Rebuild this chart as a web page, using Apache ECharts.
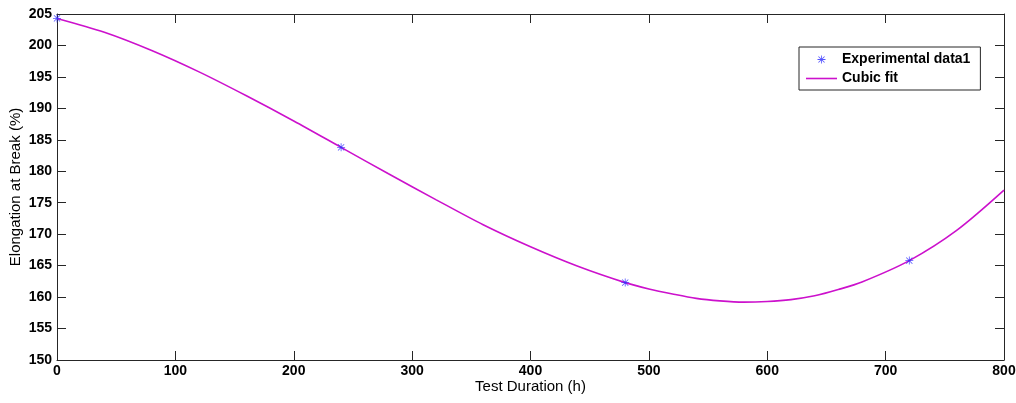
<!DOCTYPE html>
<html>
<head>
<meta charset="utf-8">
<script src="https://cdn.jsdelivr.net/npm/echarts@6/dist/echarts.min.js"></script>
<style>
  html, body { margin: 0; padding: 0; background: #fff; }
  #chart { width: 1016px; height: 403px; }
</style>
</head>
<body>
<div id="chart"></div>
<script>
// measured points
const testHours = [0, 240, 480, 720];
const elongation = [204.3, 183.8, 162.3, 165.8];

// cubic fit curve (denser around the minimum)
const fitHours = [0, 40, 80, 120, 160, 200, 240, 280, 320, 360, 400, 440, 480, 500, 520, 540, 560, 580, 600, 620, 640, 660, 680, 720, 760, 800];
const fitElongation = [204.3, 202.1, 199.2, 195.8, 192.0, 188.0, 183.8, 179.6, 175.5, 171.5, 168.0, 164.9, 162.3, 161.3, 160.5, 159.8, 159.4, 159.2, 159.3, 159.6, 160.2, 161.2, 162.4, 165.8, 170.6, 177.0];

const font = "'Liberation Sans', Arial, sans-serif";
const axisColor = "#262626";

// asterisk marker like matlab '*'
const starPath = "path://M0 4.5L10 4.5L10 5.5L0 5.5Z M4.5 0L5.5 0L5.5 10L4.5 10Z " +
  "M1.5 0.8L9.2 8.5L8.5 9.2L0.8 1.5Z M8.5 0.8L9.2 1.5L1.5 9.2L0.8 8.5Z";

const chart = echarts.init(document.getElementById("chart"));

function boxAxis(pos, showLabel) {
  return {
    type: "value",
    position: pos,
    axisLine: { show: true, onZero: false, lineStyle: { color: axisColor, width: 1 } },
    axisTick: { show: true, inside: true, length: 9, lineStyle: { color: axisColor } },
    axisLabel: {
      show: showLabel,
      color: "#000",
      fontFamily: font,
      fontWeight: "bold",
      fontSize: 14
    },
    splitLine: { show: false }
  };
}

let xBottom = boxAxis("bottom", true);
Object.assign(xBottom, {
  min: 0, max: 800, interval: 100,
  name: "Test Duration (h)",
  nameLocation: "middle",
  nameGap: 19,
  nameMoveOverlap: false,
  nameTextStyle: { color: "#000", fontFamily: font, fontSize: 15 }
});
xBottom.axisLabel.margin = 4;
let xTop = boxAxis("top", false);
Object.assign(xTop, { min: 0, max: 800, interval: 100 });

let yLeft = boxAxis("left", true);
Object.assign(yLeft, {
  min: 150, max: 205, interval: 5,
  name: "Elongation at Break (%)",
  nameLocation: "middle",
  nameGap: 34,
  nameMoveOverlap: false,
  nameTextStyle: { color: "#000", fontFamily: font, fontSize: 15 }
});
yLeft.axisLabel.margin = 5;
let yRight = boxAxis("right", false);
Object.assign(yRight, { min: 150, max: 205, interval: 5 });

let option = {
  backgroundColor: "#fff",
  animation: false,
  grid: { left: 57, top: 14, right: 12, bottom: 43, outerBoundsMode: "none", containLabel: false },
  legend: {
    orient: "vertical",
    left: 799,
    top: 47,
    padding: [4, 10, 3, 7],
    itemGap: 2,
    itemWidth: 31,
    itemHeight: 8,
    borderColor: axisColor,
    borderWidth: 1,
    backgroundColor: "#fff",
    textStyle: { color: "#000", fontFamily: font, fontWeight: "bold", fontSize: 14, lineHeight: 17 },
    data: [
      { name: "Experimental data1", icon: starPath },
      { name: "Cubic fit", icon: "path://M0 0L31 0L31 1.6L0 1.6Z" }
    ]
  },
  xAxis: [xBottom, xTop],
  yAxis: [yLeft, yRight],
  series: [
    {
      name: "Cubic fit",
      type: "line",
      data: fitHours.map((h, i) => [h, fitElongation[i]]),
      smooth: 0.3,
      showSymbol: false,
      symbol: "none",
      lineStyle: { color: "#cc11cc", width: 1.6 },
      itemStyle: { color: "#cc11cc" },
      z: 2
    },
    {
      name: "Experimental data1",
      type: "scatter",
      data: testHours.map((h, i) => [h, elongation[i]]),
      symbol: starPath,
      symbolSize: 8,
      itemStyle: { color: "#2a2aff" },
      z: 3
    }
  ]
};

chart.setOption(option);
</script>
</body>
</html>
